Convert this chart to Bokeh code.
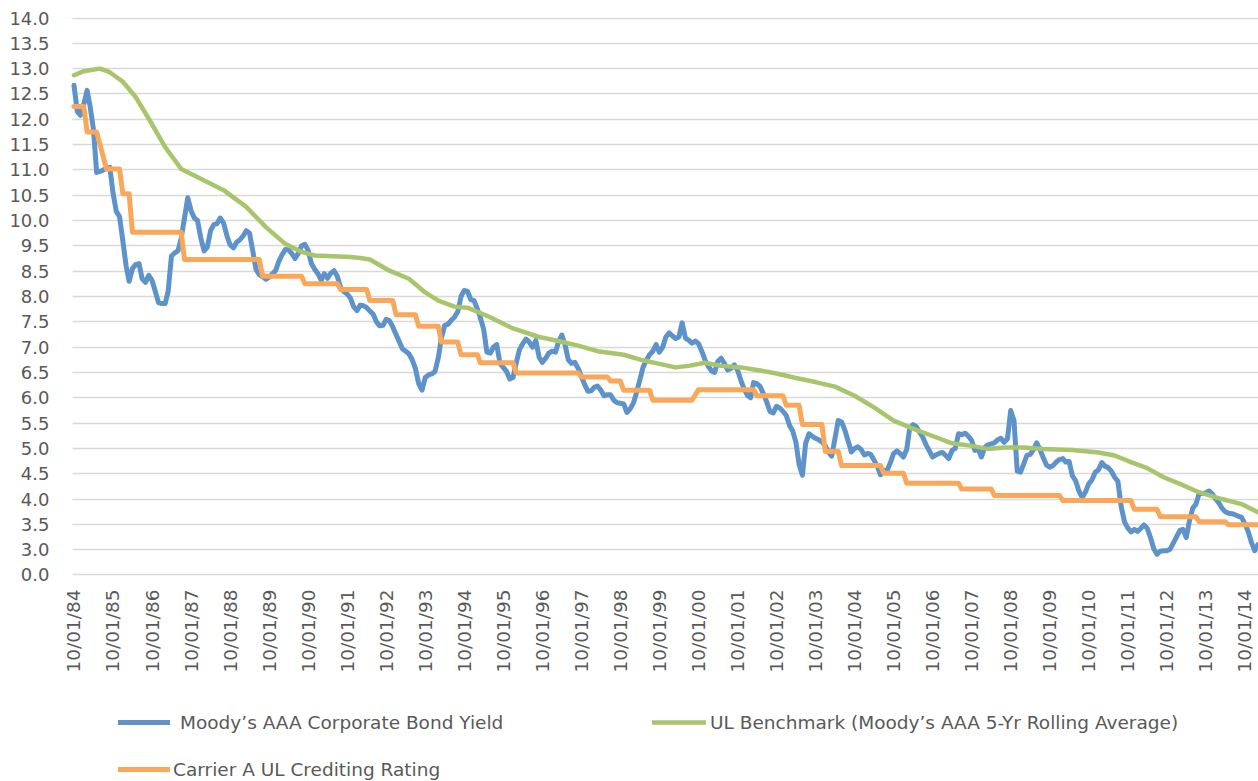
import math
import pandas as pd
from bokeh.plotting import figure
from bokeh.models import (Range1d, FixedTicker, Legend, LegendItem, ColumnDataSource,
                          BoxAnnotation)
from bokeh.core.properties import value
from bokeh.embed import file_html
from bokeh.resources import INLINE

# ---------------- data ----------------
SERIES_NAMES = [
    "Moody\u2019s AAA Corporate Bond Yield",
    "UL Benchmark (Moody\u2019s AAA 5-Yr Rolling Average)",
    "Carrier A UL Crediting Rating",
]

# Monthly Moody's AAA yield, starting October 1984 (one value per month)
BLUE_START = "1984-10-01"
BLUE_YIELD = [
    12.67, 12.15, 12.08, 12.30, 12.57, 12.25, 11.80, 10.95, 10.97, 11.00, 11.03, 11.05,
    10.55, 10.18, 10.08, 9.60, 9.10, 8.80, 9.05, 9.13, 9.15, 8.85, 8.78, 8.92,
    8.82, 8.60, 8.38, 8.36, 8.36, 8.60, 9.30, 9.36, 9.40, 9.65, 10.05, 10.45,
    10.20, 10.05, 10.00, 9.65, 9.40, 9.47, 9.80, 9.92, 9.94, 10.05, 9.95, 9.70,
    9.52, 9.46, 9.57, 9.62, 9.70, 9.80, 9.75, 9.40, 9.03, 8.93, 8.89, 8.84,
    8.88, 8.95, 9.01, 9.20, 9.33, 9.43, 9.42, 9.35, 9.25, 9.35, 9.50, 9.53,
    9.41, 9.15, 9.04, 8.95, 8.82, 8.95, 8.86, 8.96, 9.01, 8.90, 8.68, 8.60,
    8.55, 8.47, 8.30, 8.22, 8.33, 8.32, 8.28, 8.21, 8.15, 8.00, 7.92, 7.93,
    8.05, 8.02, 7.90, 7.75, 7.60, 7.47, 7.42, 7.37, 7.25, 7.08, 6.78, 6.65,
    6.90, 6.95, 6.97, 7.02, 7.30, 7.68, 7.93, 7.95, 8.03, 8.09, 8.20, 8.50,
    8.62, 8.60, 8.44, 8.42, 8.25, 8.08, 7.85, 7.40, 7.38, 7.50, 7.55, 7.18,
    7.10, 7.02, 6.87, 6.90, 7.20, 7.45, 7.57, 7.66, 7.60, 7.50, 7.63, 7.30,
    7.20, 7.28, 7.38, 7.42, 7.40, 7.60, 7.74, 7.55, 7.25, 7.18, 7.20, 7.08,
    6.92, 6.76, 6.63, 6.64, 6.71, 6.73, 6.65, 6.54, 6.56, 6.56, 6.45, 6.40,
    6.39, 6.38, 6.21, 6.28, 6.40, 6.60, 6.85, 7.10, 7.24, 7.35, 7.42, 7.55,
    7.40, 7.50, 7.70, 7.78, 7.72, 7.67, 7.70, 7.98, 7.68, 7.64, 7.58, 7.62,
    7.57, 7.42, 7.25, 7.12, 7.03, 7.00, 7.22, 7.28, 7.18, 7.05, 7.08, 7.15,
    7.05, 6.85, 6.68, 6.55, 6.50, 6.80, 6.78, 6.72, 6.58, 6.42, 6.23, 6.20,
    6.33, 6.30, 6.23, 6.15, 5.95, 5.85, 5.62, 5.18, 4.97, 5.60, 5.79, 5.74,
    5.70, 5.67, 5.63, 5.55, 5.42, 5.35, 5.70, 6.05, 6.02, 5.87, 5.65, 5.43,
    5.50, 5.53, 5.48, 5.37, 5.40, 5.38, 5.27, 5.15, 4.98, 5.07, 5.06, 5.22,
    5.40, 5.45, 5.40, 5.33, 5.48, 5.90, 5.97, 5.93, 5.82, 5.72, 5.57, 5.45,
    5.33, 5.37, 5.40, 5.42, 5.36, 5.30, 5.46, 5.50, 5.79, 5.77, 5.80, 5.74,
    5.66, 5.46, 5.49, 5.33, 5.52, 5.57, 5.59, 5.61, 5.67, 5.70, 5.62, 5.69,
    6.25, 6.05, 5.05, 5.03, 5.20, 5.36, 5.38, 5.47, 5.61, 5.48, 5.32, 5.17,
    5.13, 5.16, 5.23, 5.28, 5.30, 5.23, 5.24, 4.96, 4.86, 4.66, 4.53, 4.64,
    4.80, 4.88, 5.03, 5.08, 5.22, 5.15, 5.12, 5.05, 4.93, 4.85, 4.35, 4.05,
    3.93, 3.85, 3.90, 3.86, 3.92, 3.99, 3.92, 3.74, 3.52, 3.41, 3.47, 3.48,
    3.48, 3.51, 3.63, 3.76, 3.88, 3.90, 3.74, 4.07, 4.32, 4.40, 4.62, 4.61,
    4.62, 4.66, 4.60, 4.50, 4.42, 4.32, 4.25, 4.22, 4.21, 4.19, 4.16, 4.14,
    4.01, 3.86, 3.65, 3.48, 3.60,
]

# UL benchmark (5-yr rolling average), sampled along the curve
GREEN_DATES = [
    "1984-10", "1985-01", "1985-06", "1985-09", "1986-01", "1986-05", "1986-09",
    "1987-02", "1987-07", "1988-03", "1988-08", "1989-03", "1989-09", "1990-03",
    "1990-08", "1990-12", "1991-11", "1992-02", "1992-05", "1992-11", "1993-05",
    "1993-10", "1994-02", "1994-07", "1994-11", "1995-06", "1996-01", "1996-09",
    "1997-03", "1997-09", "1998-03", "1998-11", "1999-05", "1999-10", "2000-03",
    "2000-07", "2000-12", "2001-05", "2001-11", "2002-05", "2002-10", "2003-04",
    "2003-10", "2004-04", "2004-10", "2005-04", "2005-10", "2006-04", "2006-11",
    "2007-04", "2007-10", "2008-03", "2008-08", "2009-02", "2009-08", "2010-05",
    "2011-01", "2011-06", "2011-11", "2012-04", "2012-09", "2013-02", "2013-08",
    "2014-03", "2014-09", "2015-02",
]
GREEN_VALUES = [
    12.87, 12.95, 13.00, 12.93, 12.74, 12.44, 12.01,
    11.45, 11.02, 10.76, 10.60, 10.27, 9.87, 9.54,
    9.38, 9.31, 9.28, 9.26, 9.23, 9.01, 8.85,
    8.58, 8.42, 8.30, 8.28, 8.09, 7.87, 7.70,
    7.62, 7.53, 7.42, 7.35, 7.24, 7.17, 7.10,
    7.13, 7.19, 7.13, 7.10, 7.04, 6.98, 6.89,
    6.81, 6.72, 6.54, 6.31, 6.05, 5.89, 5.72,
    5.60, 5.55, 5.49, 5.52, 5.52, 5.49, 5.47,
    5.42, 5.36, 5.23, 5.11, 4.93, 4.80, 4.63,
    4.50, 4.40, 4.24,
]

# Carrier A crediting rate: corners of the step line
ORANGE_DATES = [
    "1984-10", "1985-01", "1985-02", "1985-05", "1985-08", "1985-12", "1986-01",
    "1986-03", "1986-04", "1987-07", "1987-08", "1989-07", "1989-08", "1990-08",
    "1990-09", "1991-07", "1991-08", "1992-04", "1992-05", "1992-12", "1993-01",
    "1993-07", "1993-08", "1994-02", "1994-03", "1994-08", "1994-09", "1995-02",
    "1995-03", "1996-01", "1996-02", "1997-09", "1997-10", "1998-06", "1998-07",
    "1998-10", "1998-11", "1999-07", "1999-08", "2000-08", "2000-10", "2002-03",
    "2002-04", "2002-12", "2003-01", "2003-05", "2003-06", "2003-12", "2004-01",
    "2004-05", "2004-06", "2005-06", "2005-07", "2006-01", "2006-02", "2007-06",
    "2007-07", "2008-04", "2008-05", "2010-01", "2010-02", "2011-11", "2011-12",
    "2012-07", "2012-08", "2013-07", "2013-08", "2014-04", "2014-05", "2015-02",
]
ORANGE_VALUES = [
    12.25, 12.25, 11.75, 11.75, 11.02, 11.02, 10.53,
    10.53, 9.77, 9.77, 9.23, 9.23, 8.90, 8.90,
    8.75, 8.75, 8.64, 8.64, 8.42, 8.42, 8.14,
    8.14, 7.91, 7.91, 7.60, 7.60, 7.35, 7.35,
    7.19, 7.19, 6.99, 6.99, 6.91, 6.91, 6.83,
    6.83, 6.65, 6.65, 6.45, 6.45, 6.66, 6.66,
    6.54, 6.54, 6.35, 6.35, 5.97, 5.97, 5.44,
    5.44, 5.16, 5.16, 5.01, 5.01, 4.81, 4.81,
    4.70, 4.70, 4.57, 4.57, 4.47, 4.47, 4.30,
    4.30, 4.15, 4.15, 4.05, 4.05, 3.99, 3.99,
]

# Y axis: gridline values and the labels printed beside them
Y_TICK_VALUES = [14.0 - 0.5 * i for i in range(23)]
Y_TICK_LABELS = ["14.0", "13.5", "13.0", "12.5", "12.0", "11.5", "11.0", "10.5",
                 "10.0", "9.5", "8.5", "8.0", "7.5", "7.0", "6.5", "6.0", "5.5",
                 "5.0", "4.5", "4.0", "3.5", "3.0", "0.0"]
X_TICK_YEARS = list(range(1984, 2015))
X_TICK_LABELS = [f"10/01/{y % 100:02d}" for y in X_TICK_YEARS]

# ---------------- styling / layout ----------------
BLUE = "#5D93CA"
GREEN = "#A8C56C"
ORANGE = "#F9A85A"
GRID = "#D9D9D9"
TEXT = "#595959"
FONT = "DejaVu Sans"
YSIZE = "18px"
XSIZE = "18.5px"
LSIZE = "18.5px"

W, H = 1258, 781
PLOT_LEFT = 72        # where the gridded plot area starts
FRAME_LEFT = 60       # drawing frame starts a little earlier so the first date label fits
TOP = 17
Y_TOP = 14.01
PX_PER_Y = 558 / 11.02
FRAME_H = H - TOP
Y_BOTTOM = Y_TOP - FRAME_H / PX_PER_Y
AXIS_BASE = 3.0                  # value of the bottom gridline
LABEL_GAP_PX = 14.5              # gap between bottom gridline and date labels

X_START = pd.Timestamp("1984-09-17")
X_END = pd.Timestamp("2015-02-06")
per_px = (X_END - X_START) / (W - PLOT_LEFT)
FRAME_START = X_START - per_px * (PLOT_LEFT - FRAME_LEFT)

blue_src = ColumnDataSource(dict(
    x=pd.date_range(BLUE_START, periods=len(BLUE_YIELD), freq="MS"), y=BLUE_YIELD))
green_src = ColumnDataSource(dict(x=pd.to_datetime(GREEN_DATES, format="%Y-%m"), y=GREEN_VALUES))
orange_src = ColumnDataSource(dict(x=pd.to_datetime(ORANGE_DATES, format="%Y-%m"), y=ORANGE_VALUES))
xlab_src = ColumnDataSource(dict(
    x=pd.to_datetime([f"{y}-10-01" for y in X_TICK_YEARS]),
    y=[AXIS_BASE - LABEL_GAP_PX / PX_PER_Y] * len(X_TICK_YEARS),
    text=X_TICK_LABELS))

p = figure(
    frame_width=W - FRAME_LEFT, frame_height=FRAME_H,
    min_border_left=FRAME_LEFT, min_border_right=0, min_border_top=TOP, min_border_bottom=0,
    x_axis_location=None,
    x_range=Range1d(FRAME_START.to_pydatetime(), X_END.to_pydatetime()),
    y_range=Range1d(Y_BOTTOM, Y_TOP),
    output_backend="svg", toolbar_location=None, title=None,
)
p.outline_line_color = None
p.background_fill_color = "white"
p.border_fill_color = "white"

# grid
p.xgrid.visible = False
p.ygrid.ticker = FixedTicker(ticks=Y_TICK_VALUES)
p.ygrid.grid_line_color = GRID
p.ygrid.grid_line_width = 1.5

# keep the gridlines starting at the plot-area edge
p.add_layout(BoxAnnotation(left=FRAME_START.to_pydatetime(), right=X_START.to_pydatetime(),
                           fill_color="white", fill_alpha=1.0, line_alpha=0,
                           level="underlay"))

# y axis
ya = p.yaxis[0]
ya.ticker = FixedTicker(ticks=Y_TICK_VALUES)
ya.major_label_overrides = {v: s for v, s in zip(Y_TICK_VALUES, Y_TICK_LABELS)}
ya.axis_line_color = None
ya.major_tick_line_color = None
ya.minor_tick_line_color = None
ya.major_tick_out = 0
ya.major_tick_in = 0
ya.major_label_standoff = 11
ya.major_label_text_font = FONT
ya.major_label_text_font_size = YSIZE
ya.major_label_text_color = TEXT

# date labels under the bottom gridline (vertical, reading upward)
p.text(x="x", y="y", text="text", source=xlab_src, angle=math.pi / 2,
       text_align="right", text_baseline="middle",
       text_font=value(FONT), text_font_size=value(XSIZE), text_color=TEXT)

# series (drawn in legend order)
r_blue = p.line("x", "y", source=blue_src, line_color=BLUE, line_width=5,
                line_join="round", line_cap="round")
r_green = p.line("x", "y", source=green_src, line_color=GREEN, line_width=4.5,
                 line_join="round", line_cap="round")
r_orange = p.line("x", "y", source=orange_src, line_color=ORANGE, line_width=5,
                  line_join="round", line_cap="round")


def add_legend(renderer, label, loc, glyph_w, standoff):
    lg = Legend(
        items=[LegendItem(label=label, renderers=[renderer])],
        location=loc, orientation="vertical",
        glyph_width=glyph_w, glyph_height=24, label_height=24,
        label_standoff=standoff, padding=0, margin=0, spacing=0,
        border_line_color=None, background_fill_alpha=0,
        label_text_font=FONT, label_text_font_size=LSIZE, label_text_color=TEXT,
        click_policy="none",
    )
    p.add_layout(lg)


# legend rows: centres at 722 px and 769 px from the top
add_legend(r_blue, SERIES_NAMES[0], (118 - FRAME_LEFT, 47), 52, 10)
add_legend(r_green, SERIES_NAMES[1], (652 - FRAME_LEFT, 47), 54, 4)
add_legend(r_orange, SERIES_NAMES[2], (118 - FRAME_LEFT, 0), 52, 3)

open("out.html", "w").write(file_html(p, INLINE))
